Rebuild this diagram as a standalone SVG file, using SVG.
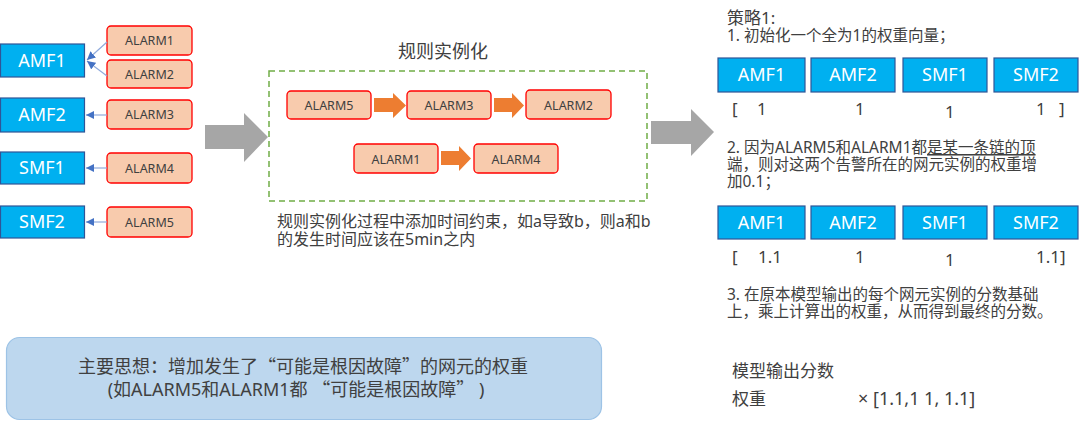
<svg xmlns="http://www.w3.org/2000/svg" width="1080" height="425" viewBox="0 0 1080 425">
<defs>
<style>
.t{font-family:"Noto Sans","Noto Sans CJK SC",sans-serif;fill:#404040}
.q{font-family:"Noto Sans CJK SC",sans-serif}
.nf rect{fill:#00b0f0;stroke:#2f5597;stroke-width:1.2}
.nf text{font-family:"Noto Sans","Noto Sans CJK SC",sans-serif;fill:#ffffff;font-size:18px;text-anchor:middle}
.al rect{fill:#f8cbad;stroke:#ff0000;stroke-width:1.3}
.al text{font-family:"Noto Sans","Noto Sans CJK SC",sans-serif;fill:#404040;font-size:12.5px;text-anchor:middle}
.cn line{stroke:#8faadc;stroke-width:1.2;marker-end:url(#ah)}
.ga{fill:#a6a6a6}
.oa{fill:#ed7d31}
</style>
<marker id="ah" viewBox="0 0 10 10" refX="10" refY="5" markerWidth="7" markerHeight="7" orient="auto"><path d="M0,0 L10,5 L0,10 z" fill="#4472c4"/></marker>
</defs>
<rect width="1080" height="425" fill="#ffffff"/>

<!-- left NF nodes -->
<g id="amf1-left" class="nf"><rect x="0.5" y="44" width="84" height="33"/><text x="42" y="67">AMF1</text></g>
<g id="amf2-left" class="nf"><rect x="0.5" y="98" width="84" height="34"/><text x="42" y="121">AMF2</text></g>
<g id="smf1-left" class="nf"><rect x="0.5" y="152" width="84" height="32"/><text x="42" y="174">SMF1</text></g>
<g id="smf2-left" class="nf"><rect x="0.5" y="206" width="84" height="32"/><text x="42" y="228">SMF2</text></g>

<!-- left alarms -->
<g id="alarm1-left" class="al"><rect x="107" y="26" width="85" height="29" rx="4"/><text x="149.5" y="45">ALARM1</text></g>
<g id="alarm2-left" class="al"><rect x="107" y="60" width="85" height="28" rx="4"/><text x="149.5" y="78.5">ALARM2</text></g>
<g id="alarm3-left" class="al"><rect x="107" y="100" width="85" height="29" rx="4"/><text x="149.5" y="119">ALARM3</text></g>
<g id="alarm4-left" class="al"><rect x="107" y="153" width="85" height="30" rx="4"/><text x="149.5" y="172.5">ALARM4</text></g>
<g id="alarm5-left" class="al"><rect x="107" y="207" width="85" height="30" rx="4"/><text x="149.5" y="226.5">ALARM5</text></g>

<!-- connectors -->
<g id="connectors" class="cn">
<line x1="107" y1="42" x2="87" y2="60"/>
<line x1="107" y1="76" x2="87" y2="61"/>
<line x1="107" y1="115" x2="86" y2="115"/>
<line x1="107" y1="168" x2="86" y2="168"/>
<line x1="107" y1="222" x2="86" y2="222"/>
</g>

<!-- big gray arrows -->
<g id="gray-arrow-1"><polygon class="ga" points="205,125 244,125 244,113 268,137 244,162 244,149 205,149"/></g>
<g id="gray-arrow-2"><polygon class="ga" points="651,121 691,121 691,109 714,132 691,156 691,144 651,144"/></g>

<!-- rule instantiation -->
<g id="rule-box">
<text class="t" x="443" y="58" font-size="18" text-anchor="middle">规则实例化</text>
<rect x="269" y="71" width="378" height="130" fill="none" stroke="#70ad47" stroke-width="1.5" stroke-dasharray="6 4"/>
</g>
<g id="alarm5-rule" class="al"><rect x="287" y="91" width="84" height="28" rx="4"/><text x="329" y="110">ALARM5</text></g>
<g id="alarm3-rule" class="al"><rect x="407" y="91" width="84" height="28" rx="4"/><text x="449" y="110">ALARM3</text></g>
<g id="alarm2-rule" class="al"><rect x="526" y="90" width="85" height="29" rx="4"/><text x="568.5" y="109.5">ALARM2</text></g>
<g id="alarm1-rule" class="al"><rect x="354" y="144" width="84" height="29" rx="4"/><text x="396" y="163.5">ALARM1</text></g>
<g id="alarm4-rule" class="al"><rect x="474" y="144" width="84" height="29" rx="4"/><text x="516" y="163.5">ALARM4</text></g>
<g id="rule-arrows">
<polygon class="oa" points="374,98 393,98 393,93 406,105.5 393,118 393,112 374,112"/>
<polygon class="oa" points="494,98 512,98 512,93 524,105.5 512,118 512,112 494,112"/>
<polygon class="oa" points="441,151 459,151 459,146 471,158.5 459,171 459,165 441,165"/>
</g>
<g id="rule-note">
<text class="t" x="277" y="227" font-size="16">规则实例化过程中添加时间约束，如a导致b，则a和b</text>
<text class="t" x="277" y="245" font-size="16">的发生时间应该在5min之内</text>
</g>

<!-- bottom idea box -->
<g id="idea-box">
<rect x="6.5" y="337.5" width="595" height="82" rx="13" fill="#bdd7ee" stroke="#9dc3e6" stroke-width="1.2"/>
<text class="t" x="303" y="373" font-size="18" text-anchor="middle">主要思想：增加发生了<tspan class="q">“</tspan>可能是根因故障<tspan class="q">”</tspan>的网元的权重</text>
<text class="t" x="296" y="396" font-size="18" text-anchor="middle">(如ALARM5和ALARM1都 <tspan class="q">“</tspan>可能是根因故障<tspan class="q">”</tspan> )</text>
</g>

<!-- strategy text -->
<g id="strategy">
<text class="t" x="727" y="24" font-size="17">策略1:</text>
<text class="t" x="727" y="41" font-size="15.5">1. 初始化一个全为1的权重向量；</text>
<text class="t" x="727" y="153" font-size="15.5">2. 因为ALARM5和ALARM1都<tspan text-decoration="underline">是某一条链的顶</tspan></text>
<text class="t" x="727" y="170" font-size="15.5">端，则对这两个告警所在的网元实例的权重增</text>
<text class="t" x="727" y="187" font-size="15.5">加0.1；</text>
<text class="t" x="727" y="300" font-size="15.5">3. 在原本模型输出的每个网元实例的分数基础</text>
<text class="t" x="727" y="317" font-size="15.5">上，乘上计算出的权重，从而得到最终的分数。</text>
<text class="t" x="732" y="377" font-size="17">模型输出分数</text>
<text class="t" x="732" y="405" font-size="17">权重</text>
<text class="t" x="858" y="405" font-size="18">× [1.1,1 1, 1.1]</text>
</g>

<!-- right row 1 -->
<g id="amf1-r1" class="nf"><rect x="718" y="58" width="87" height="34"/><text x="761.5" y="81">AMF1</text></g>
<g id="amf2-r1" class="nf"><rect x="811" y="58" width="84" height="34"/><text x="853" y="81">AMF2</text></g>
<g id="smf1-r1" class="nf"><rect x="903" y="58" width="84" height="34"/><text x="945" y="81">SMF1</text></g>
<g id="smf2-r1" class="nf"><rect x="994" y="58" width="84" height="34"/><text x="1036" y="81">SMF2</text></g>
<g id="values-r1" class="t" font-size="17">
<text x="732" y="115">[</text>
<text x="757" y="115">1</text>
<text x="855" y="115">1</text>
<text x="945" y="118">1</text>
<text x="1036" y="115">1</text>
<text x="1059" y="115">]</text>
</g>

<!-- right row 2 -->
<g id="amf1-r2" class="nf"><rect x="718" y="206" width="87" height="33"/><text x="761.5" y="229">AMF1</text></g>
<g id="amf2-r2" class="nf"><rect x="811" y="206" width="84" height="33"/><text x="853" y="229">AMF2</text></g>
<g id="smf1-r2" class="nf"><rect x="903" y="206" width="84" height="33"/><text x="945" y="229">SMF1</text></g>
<g id="smf2-r2" class="nf"><rect x="994" y="206" width="84" height="33"/><text x="1036" y="229">SMF2</text></g>
<g id="values-r2" class="t" font-size="17">
<text x="732" y="263">[</text>
<text x="758" y="263">1.1</text>
<text x="855" y="263">1</text>
<text x="945" y="266">1</text>
<text x="1036" y="263">1.1]</text>
</g>
</svg>
